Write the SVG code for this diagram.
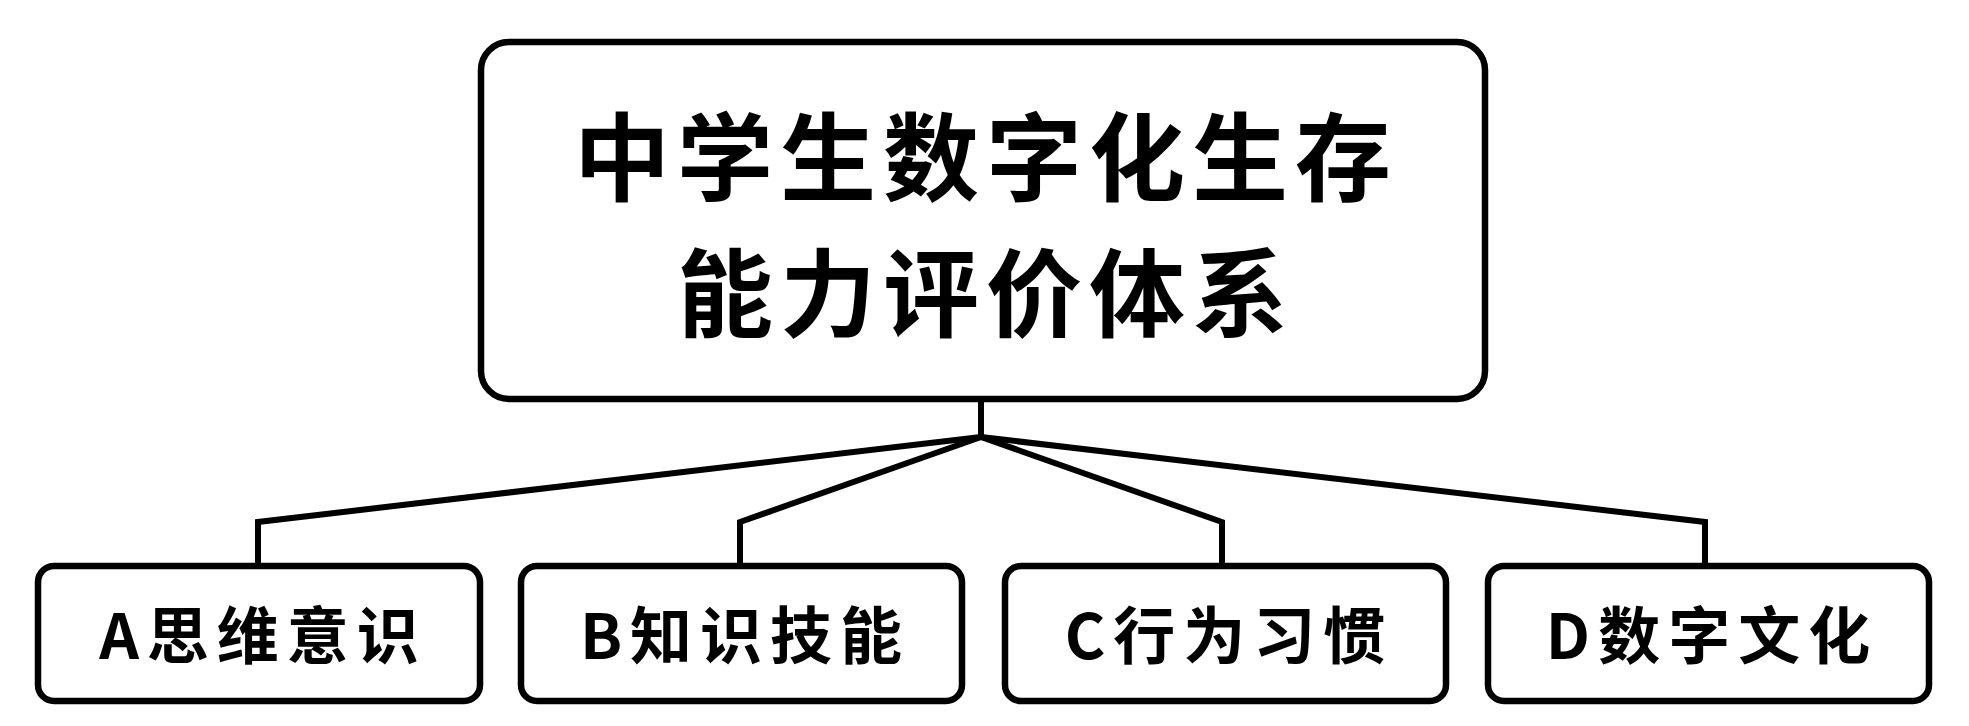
<svg xmlns="http://www.w3.org/2000/svg" width="1969" height="726" viewBox="0 0 1969 726">
<style>
.box{fill:#fff;stroke:#000;stroke-width:6.5}
.conn{fill:none;stroke:#000;stroke-width:6;stroke-linejoin:miter}
.title{font-family:"Noto Sans CJK SC","Noto Sans CJK JP",sans-serif;font-weight:700;font-size:96px;letter-spacing:7px;text-anchor:middle;dominant-baseline:central;fill:#000}
.lbl{font-family:"Noto Sans CJK SC","Noto Sans CJK JP",sans-serif;font-weight:700;font-size:62px;letter-spacing:8px;text-anchor:middle;dominant-baseline:central;fill:#000}
</style>
<rect width="1969" height="726" fill="#fff"/>
<g id="connectors">
<path class="conn" d="M981,399 V437"/>
<path class="conn" d="M981,437 L258,522 V566"/>
<path class="conn" d="M981,437 L740,522 V566"/>
<path class="conn" d="M981,437 L1222,522 V566"/>
<path class="conn" d="M981,437 L1705,522 V566"/>
</g>
<g id="root">
<rect class="box" x="481" y="42" width="1004" height="357" rx="28"/>
<text class="title" x="986" y="151">中学生数字化生存</text>
<text class="title" x="986" y="287">能力评价体系</text>
</g>
<g id="nodeA">
<rect class="box" x="38" y="566" width="442" height="135" rx="16"/>
<text class="lbl" x="263" y="632">A思维意识</text>
</g>
<g id="nodeB">
<rect class="box" x="521" y="566" width="441" height="135" rx="16"/>
<text class="lbl" x="745" y="632">B知识技能</text>
</g>
<g id="nodeC">
<rect class="box" x="1005" y="566" width="441" height="135" rx="16"/>
<text class="lbl" x="1229" y="632">C行为习惯</text>
</g>
<g id="nodeD">
<rect class="box" x="1488" y="566" width="441" height="135" rx="16"/>
<text class="lbl" x="1712" y="632">D数字文化</text>
</g>
</svg>
